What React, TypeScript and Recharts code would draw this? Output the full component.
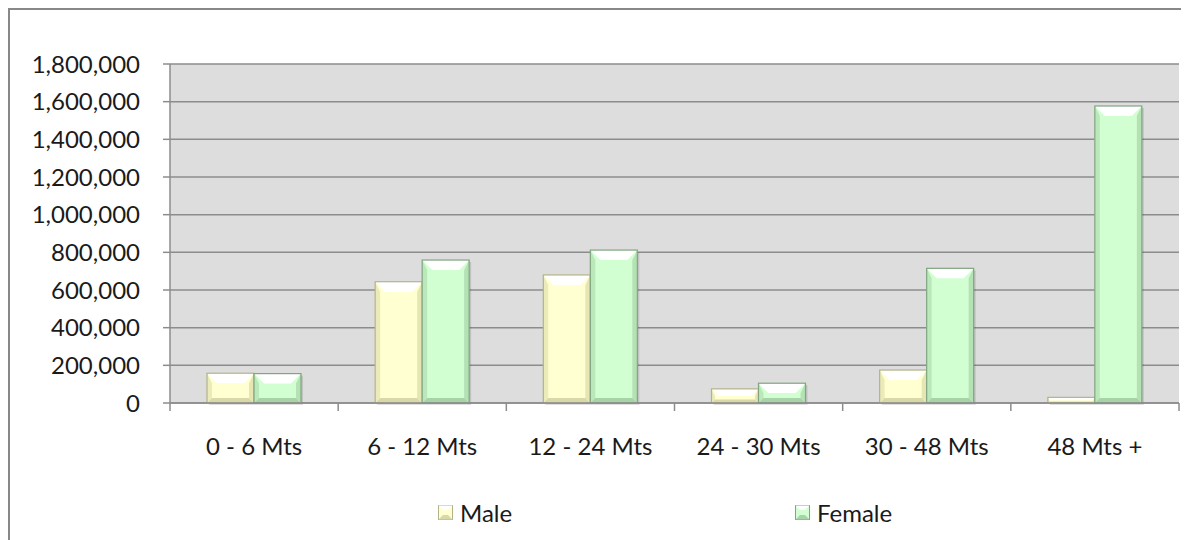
import { BarChart, Bar, XAxis, YAxis, CartesianGrid } from 'recharts';

const categories = ['0 - 6 Mts', '6 - 12 Mts', '12 - 24 Mts', '24 - 30 Mts', '30 - 48 Mts', '48 Mts +'];
const maleValues = [158000, 644000, 680000, 75000, 175000, 30000];
const femaleValues = [156000, 759000, 812000, 105000, 715000, 1577000];
const yTicks = [0, 200000, 400000, 600000, 800000, 1000000, 1200000, 1400000, 1600000, 1800000];

const data = categories.map((name, i) => ({ name, male: maleValues[i], female: femaleValues[i] }));

const FONT = 'Lato, "Open Sans", sans-serif';
const TEXT = '#1a1a1a';

const palette = {
  male: { fill: '#ffffd2', edge: '#b3b38a', side: '#e6e6b4', bottom: '#d8d8a8' },
  female: { fill: '#d2ffd2', edge: '#80a580', side: '#b4e2b4', bottom: '#a8d2a8' },
};

function BevelBar(props: any) {
  const { x, y, width, height, kind } = props;
  if (!height || height <= 0) return null;
  const c = palette[kind as 'male' | 'female'];
  const b = Math.min(10, height / 2, width / 4);
  const x2 = x + width;
  const y2 = y + height;
  return (
    <g>
      <rect x={x + 2} y={y + 2} width={width} height={height} fill="rgba(0,0,0,0.12)" />
      <rect x={x} y={y} width={width} height={height} fill={c.fill} />
      <polygon points={`${x},${y} ${x2},${y} ${x2 - b},${y + b} ${x + b},${y + b}`} fill="#ffffff" />
      <polygon points={`${x},${y} ${x + b * 0.5},${y + b} ${x + b * 0.5},${y2 - b * 0.5} ${x},${y2}`} fill={c.side} opacity={0.8} />
      <polygon points={`${x2},${y} ${x2 - b * 0.5},${y + b} ${x2 - b * 0.5},${y2 - b * 0.5} ${x2},${y2}`} fill={c.side} />
      <polygon points={`${x},${y2} ${x + b * 0.5},${y2 - b * 0.5} ${x2 - b * 0.5},${y2 - b * 0.5} ${x2},${y2}`} fill={c.bottom} />
      <rect x={x} y={y} width={width} height={height} fill="none" stroke={c.edge} strokeWidth={1.2} />
    </g>
  );
}

function CategoryTick(props: any) {
  const { x, y, payload, index } = props;
  const half = payload && payload.offset ? payload.offset : 84;
  return (
    <g>
      {index === 0 && <line x1={x - half} y1={y - 8} x2={x - half} y2={y} stroke="#8c8c8c" strokeWidth={1.5} />}
      <line x1={x + half} y1={y - 8} x2={x + half} y2={y} stroke="#8c8c8c" strokeWidth={1.5} />
      <text x={x} y={y + 44} textAnchor="middle" fontSize={24} fill={TEXT} fontFamily={FONT}>
        {payload.value}
      </text>
    </g>
  );
}

function LegendSwatch({ kind }: { kind: 'male' | 'female' }) {
  const c = palette[kind];
  return (
    <svg width={15} height={15} style={{ marginRight: 7 }}>
      <rect x={0.5} y={0.5} width={14} height={14} fill={c.fill} stroke={c.edge} />
      <polygon points="0.5,0.5 14.5,0.5 10,5 5,5" fill="#fff" />
      <polygon points="0.5,14.5 5,10 10,10 14.5,14.5" fill={c.bottom} />
    </svg>
  );
}

const legendStyle = {
  position: 'absolute' as const,
  top: 488,
  display: 'flex',
  alignItems: 'center',
  fontSize: 24,
  lineHeight: '29px',
  color: TEXT,
};

export default function App() {
  return (
    <div
      style={{
        position: 'relative',
        width: 1181,
        height: 532,
        borderLeft: '2px solid #888',
        borderTop: '2px solid #888',
        boxSizing: 'border-box',
        background: '#fff',
        fontFamily: FONT,
      }}
    >
      <BarChart
        width={1179}
        height={530}
        data={data}
        margin={{ top: 54, right: 10, left: 0, bottom: 0 }}
        barCategoryGap="22%"
        barGap={0}
      >
        <CartesianGrid
          vertical={false}
          stroke="#8c8c8c"
          strokeWidth={1.5}
          fill="#dddddd"
          fillOpacity={1}
        />
        <XAxis
          dataKey="name"
          height={137}
          axisLine={{ stroke: '#8c8c8c', strokeWidth: 1.5 }}
          tickLine={false}
          tick={<CategoryTick />}
          interval={0}
        />
        <YAxis
          width={160}
          domain={[0, 1800000]}
          ticks={yTicks}
          interval={0}
          axisLine={{ stroke: '#8c8c8c', strokeWidth: 1.5 }}
          tickLine={{ stroke: '#8c8c8c', strokeWidth: 1.5 }}
          tickSize={7}
          tickMargin={23}
          tick={{ fontSize: 24, fill: TEXT, fontFamily: FONT }}
          tickFormatter={(v: number) => v.toLocaleString('en-US')}
        />
        <Bar dataKey="male" name="Male" isAnimationActive={false} shape={<BevelBar kind="male" />} />
        <Bar dataKey="female" name="Female" isAnimationActive={false} shape={<BevelBar kind="female" />} />
      </BarChart>
      <div style={{ ...legendStyle, left: 428 }}>
        <LegendSwatch kind="male" />
        <span>Male</span>
      </div>
      <div style={{ ...legendStyle, left: 785 }}>
        <LegendSwatch kind="female" />
        <span>Female</span>
      </div>
    </div>
  );
}
